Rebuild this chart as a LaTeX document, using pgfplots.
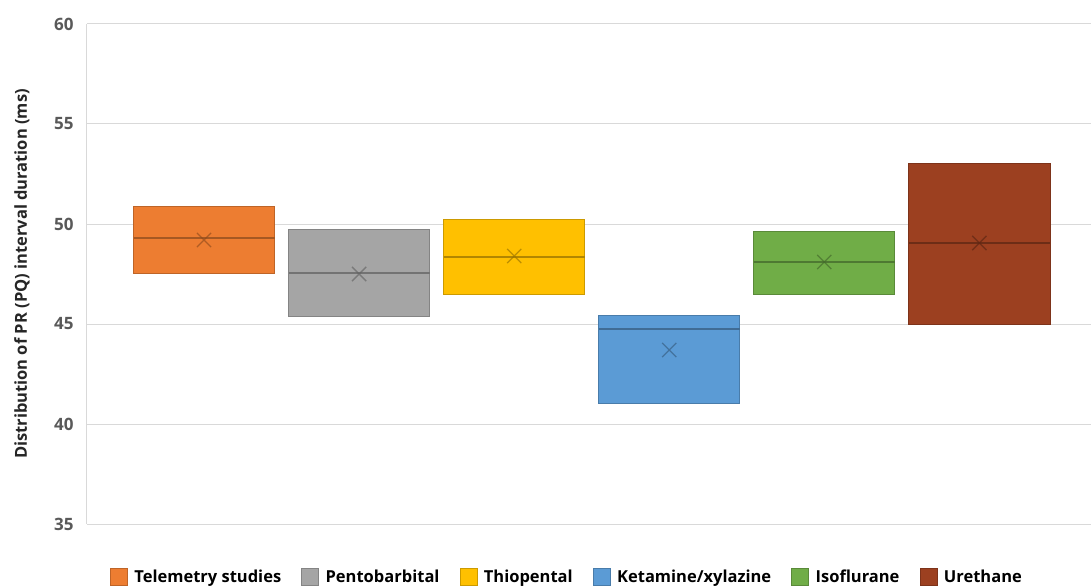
\documentclass[border=0pt]{standalone}
\usepackage{fontspec}
\setmainfont{Open Sans}
\usepackage{pgfplots}
\pgfplotsset{compat=1.18}
\usetikzlibrary{calc}

\definecolor{cTel}{HTML}{ED7D31}
\definecolor{cPen}{HTML}{A5A5A5}
\definecolor{cThi}{HTML}{FFC000}
\definecolor{cKet}{HTML}{5B9BD5}
\definecolor{cIso}{HTML}{70AD47}
\definecolor{cUre}{HTML}{9C4020}

% one box: #1 colour, #2 left, #3 right, #4 centre, #5 q1, #6 median, #7 q3, #8 mean
\newcommand{\pqbox}[8]{%
  \addplot[forget plot, fill=#1, draw=#1!80!black, line width=0.8pt]
    coordinates {(#2,#5) (#3,#5) (#3,#7) (#2,#7)} -- cycle;
  \addplot[forget plot, draw=#1!70!black, line width=1.1pt]
    coordinates {(#2,#6) (#3,#6)};
  \addplot[forget plot, only marks, mark=x, mark size=10pt,
    mark options={draw=#1!60!black, draw opacity=0.65, line width=1.3pt}]
    coordinates {(#4,#8)};
}

\begin{document}
\begin{tikzpicture}
\begin{axis}[
  scale only axis,
  width=1004pt, height=500pt,
  xmin=0.245, xmax=6.72,
  ymin=35, ymax=60,
  ytick={35,40,...,60},
  axis x line=none,
  axis y line*=left,
  y axis line style={draw=gray!30, line width=1pt},
  ytick style={draw=none},
  ymajorgrids,
  grid style={gray!30, line width=1pt},
  /pgf/number format/assume math mode=true,
  yticklabel style={font=\bfseries\fontsize{17}{17}\selectfont, text=black!65, xshift=-10pt},
  ylabel={Distribution of PR (PQ) interval duration (ms)},
  ylabel style={at={(axis description cs:-0.0647,0.5)}, anchor=center,
    font=\bfseries\fontsize{16.5}{16.5}\selectfont, text=black!85},
  legend style={at={(axis description cs:0.478,-0.106)}, anchor=center,
    legend columns=-1, draw=none, fill=none,
    font=\bfseries\fontsize{16.5}{16.5}\selectfont,
    /tikz/every odd column/.append style={column sep=5pt},
    /tikz/every even column/.append style={column sep=18pt}},
  legend image code/.code={\draw[#1] (0pt,-8pt) rectangle (17pt,9pt);},
]
\coordinate (o) at (rel axis cs:0,0);

\pqbox{cTel}{0.545}{1.455}{1}{47.55}{49.3}{50.9}{49.2}
\pqbox{cPen}{1.545}{2.455}{2}{45.4}{47.55}{49.75}{47.5}
\pqbox{cThi}{2.545}{3.455}{3}{46.5}{48.35}{50.25}{48.4}
\pqbox{cKet}{3.545}{4.455}{4}{41.05}{44.75}{45.45}{43.7}
\pqbox{cIso}{4.545}{5.455}{5}{46.5}{48.1}{49.65}{48.1}
\pqbox{cUre}{5.545}{6.455}{6}{45.0}{49.05}{53.05}{49.05}

\addlegendimage{fill=cTel, draw=cTel!80!black}
\addlegendentry{Telemetry studies}
\addlegendimage{fill=cPen, draw=cPen!80!black}
\addlegendentry{Pentobarbital}
\addlegendimage{fill=cThi, draw=cThi!80!black}
\addlegendentry{Thiopental}
\addlegendimage{fill=cKet, draw=cKet!80!black}
\addlegendentry{Ketamine/xylazine}
\addlegendimage{fill=cIso, draw=cIso!80!black}
\addlegendentry{Isoflurane}
\addlegendimage{fill=cUre, draw=cUre!80!black}
\addlegendentry{Urethane}
\end{axis}
\pgfresetboundingbox
\path[use as bounding box] ($(o)+(-87pt,-63pt)$) rectangle ($(o)+(1004pt,524pt)$);
\end{tikzpicture}
\end{document}
